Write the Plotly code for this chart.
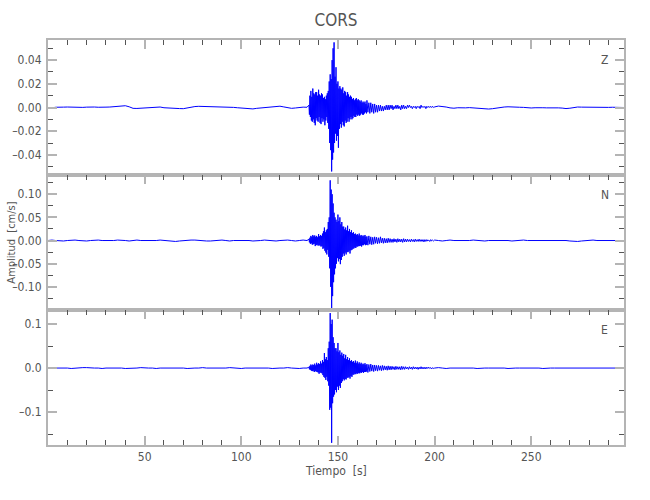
import numpy as np
import plotly.graph_objects as go
from plotly.subplots import make_subplots

# time grid (s): quiet part every 2 s, strong motion every 0.25 s,
# coda every 0.5 s, late coda every 2 s
t_quiet = np.arange(0, 135, 2)
t_strong = np.arange(135, 165, 0.25)
t_coda = np.arange(165, 200, 0.5)
t_tail = np.arange(200, 299, 2)

# vertical component Z (cm/s)
z_quiet = [
    0.0000, -0.0003, 0.0002, 0.0000, 0.0003, 0.0004, 0.0002, 0.0004, 0.0003, 0.0001,
    0.0003, 0.0005, 0.0004, 0.0002, 0.0000, 0.0003, 0.0004, 0.0006, 0.0009, 0.0013,
    0.0015, 0.0006, -0.0007, -0.0008, -0.0006, -0.0004, 0.0001, 0.0006, 0.0008, 0.0004,
    -0.0002, -0.0005, -0.0004, -0.0006, -0.0009, -0.0010, -0.0003, 0.0004, 0.0008, 0.0010,
    0.0009, 0.0007, 0.0008, 0.0006, 0.0009, 0.0007, 0.0003, 0.0002, 0.0001, -0.0002,
    -0.0004, -0.0006, -0.0010, -0.0012, -0.0007, -0.0003, -0.0004, 0.0002, 0.0007, 0.0012,
    0.0011, 0.0005, -0.0003, -0.0007, -0.0004, 0.0001, 0.0003, 0.0002,
]
z_strong = [
    0.002, -0.006, 0.010, -0.008, 0.014, -0.011, 0.009, -0.012,
    0.016, -0.010, 0.012, -0.013, 0.011, -0.015, 0.013, -0.009,
    0.013, -0.011, 0.010, -0.012, 0.015, -0.008, 0.011, -0.013,
    0.010, -0.014, 0.012, -0.009, 0.011, -0.012, 0.008, -0.010,
    0.009, -0.015, 0.007, -0.011, 0.010, -0.008, 0.012, -0.013,
    0.014, -0.018, 0.022, -0.030, 0.028, -0.036, 0.024, -0.054,
    0.040, -0.044, 0.050, -0.038, 0.055, -0.030, 0.026, -0.022,
    0.034, -0.028, 0.020, -0.024, 0.022, -0.034, 0.016, -0.018,
    0.018, -0.014, 0.016, -0.017, 0.015, -0.012, 0.017, -0.015,
    0.012, -0.016, 0.014, -0.011, 0.013, -0.013, 0.010, -0.012,
    0.013, -0.009, 0.011, -0.012, 0.009, -0.010, 0.010, -0.008,
    0.009, -0.010, 0.007, -0.009, 0.008, -0.007, 0.006, -0.008,
    0.007, -0.008, 0.008, -0.006, 0.006, -0.007, 0.007, -0.006,
    0.006, -0.007, 0.005, -0.006, 0.006, -0.005, 0.004, -0.006,
    0.005, -0.006, 0.004, -0.005, 0.005, -0.004, 0.003, -0.005,
]
z_coda = [
    0.006, -0.004, 0.004, -0.005, 0.004, -0.004, 0.003, -0.005, 0.003, -0.004,
    0.002, -0.004, 0.002, -0.003, 0.002, -0.003, 0.001, -0.003, 0.001, -0.002,
    0.002, -0.002, 0.002, -0.002, 0.002, -0.001, 0.002, -0.002, 0.001, -0.001,
    0.002, -0.001, 0.002, -0.001, 0.001, -0.002, 0.002, -0.001, 0.002, -0.001,
    0.001, -0.001, 0.002, 0.000, 0.002, 0.000, 0.001, -0.001, 0.001, 0.000,
    0.001, -0.001, 0.001, 0.000, 0.001, -0.001, 0.002, 0.000, 0.001, 0.000,
    0.001, -0.001, 0.001, 0.000, 0.001, 0.000, 0.001, 0.000, 0.001, 0.000,
]
z_tail = [
    0.0005, 0.0012, 0.0010, 0.0004, -0.0003, -0.0006, -0.0002, -0.0005, -0.0003, -0.0001,
    -0.0004, -0.0007, -0.0009, -0.0012, -0.0013, -0.0010, -0.0004, 0.0002, 0.0004, 0.0006,
    0.0003, -0.0001, 0.0002, 0.0001, -0.0003, -0.0004, -0.0002, 0.0000, -0.0002, -0.0003,
    -0.0002, 0.0001, -0.0003, -0.0005, -0.0009, -0.0006, 0.0002, 0.0004, 0.0003, 0.0002,
    0.0003, 0.0002, 0.0001, 0.0003, 0.0002, 0.0001, 0.0002, 0.0003, 0.0001, 0.0000,
]

# north component N (cm/s)
n_quiet = [
    0.000, 0.001, 0.000, -0.001, -0.001, 0.000, 0.001, 0.001, 0.000, -0.001,
    -0.001, 0.000, 0.001, 0.001, 0.000, 0.000, -0.001, 0.000, 0.001, 0.001,
    0.000, -0.001, 0.000, 0.001, 0.000, 0.000, -0.001, 0.000, 0.000, 0.001,
    0.000, -0.001, -0.001, -0.002, -0.001, 0.000, 0.001, 0.001, 0.001, 0.000,
    0.000, -0.001, -0.001, 0.000, 0.001, 0.001, 0.000, -0.001, 0.000, 0.000,
    0.001, 0.001, 0.000, -0.001, -0.001, 0.000, 0.001, 0.000, 0.000, -0.001,
    0.000, 0.001, 0.001, 0.000, -0.001, 0.000, 0.001, 0.000,
]
n_strong = [
    0.003, -0.004, 0.006, -0.007, 0.010, -0.006, 0.008, -0.009,
    0.012, -0.008, 0.009, -0.007, 0.011, -0.012, 0.008, -0.010,
    0.010, -0.009, 0.007, -0.011, 0.014, -0.010, 0.009, -0.011,
    0.012, -0.013, 0.010, -0.012, 0.015, -0.018, 0.020, -0.016,
    0.028, -0.022, 0.018, -0.026, 0.022, -0.030, 0.025, -0.020,
    0.040, -0.035, 0.050, -0.060, 0.130, -0.100, 0.110, -0.146,
    0.100, -0.120, 0.080, -0.090, 0.060, -0.073, 0.050, -0.060,
    0.045, -0.050, 0.040, -0.038, 0.056, -0.045, 0.042, -0.040,
    0.050, -0.051, 0.035, -0.042, 0.040, -0.035, 0.030, -0.028,
    0.030, -0.033, 0.024, -0.026, 0.028, -0.030, 0.022, -0.025,
    0.032, -0.025, 0.020, -0.022, 0.025, -0.028, 0.018, -0.021,
    0.022, -0.020, 0.016, -0.018, 0.018, -0.017, 0.014, -0.015,
    0.015, -0.016, 0.012, -0.013, 0.014, -0.013, 0.011, -0.012,
    0.015, -0.012, 0.010, -0.011, 0.012, -0.013, 0.009, -0.010,
    0.011, -0.010, 0.009, -0.008, 0.012, -0.010, 0.008, -0.009,
]
n_coda = [
    0.009, -0.010, 0.010, -0.008, 0.008, -0.009, 0.007, -0.008, 0.008, -0.006,
    0.007, -0.007, 0.006, -0.006, 0.008, -0.005, 0.005, -0.006, 0.005, -0.005,
    0.004, -0.005, 0.005, -0.004, 0.004, -0.004, 0.003, -0.004, 0.004, -0.003,
    0.003, -0.004, 0.004, -0.003, 0.003, -0.003, 0.003, -0.004, 0.004, -0.003,
    0.003, -0.003, 0.003, -0.002, 0.002, -0.003, 0.003, -0.002, 0.002, -0.003,
    0.003, -0.002, 0.002, -0.002, 0.003, -0.002, 0.002, -0.002, 0.002, -0.003,
    0.002, -0.002, 0.002, -0.001, 0.001, -0.002, 0.002, -0.001, 0.001, -0.001,
]
n_tail = [
    0.001, 0.000, -0.001, 0.000, 0.001, 0.000, 0.000, -0.001, 0.000, 0.000,
    0.001, 0.000, 0.000, -0.001, 0.000, 0.000, 0.001, 0.001, 0.000, 0.000,
    -0.001, 0.000, 0.000, 0.001, 0.000, 0.000, 0.000, 0.001, 0.001, 0.000,
    0.000, 0.000, 0.001, 0.000, 0.000, -0.001, -0.002, -0.002, -0.001, 0.000,
    0.000, 0.001, 0.000, 0.000, 0.000, 0.001, 0.000, 0.000, 0.000, 0.000,
]

# east component E (cm/s)
e_quiet = [
    0.000, 0.000, 0.001, 0.000, 0.000, 0.000, -0.001, 0.000, 0.000, 0.001,
    0.001, 0.000, 0.000, 0.000, -0.001, 0.000, 0.000, 0.001, 0.000, 0.000,
    -0.001, -0.001, 0.000, 0.000, 0.001, 0.000, 0.000, 0.000, -0.001, 0.000,
    0.000, 0.001, 0.001, 0.000, 0.000, 0.000, -0.001, 0.000, 0.000, 0.000,
    0.001, 0.000, 0.000, -0.001, 0.000, 0.000, 0.000, 0.001, 0.000, 0.000,
    -0.001, 0.000, 0.000, 0.000, 0.001, 0.000, 0.000, 0.000, -0.001, 0.000,
    0.000, 0.000, 0.001, 0.000, -0.001, -0.001, 0.000, 0.000,
]
e_strong = [
    0.002, -0.003, 0.005, -0.004, 0.008, -0.006, 0.006, -0.007,
    0.008, -0.006, 0.007, -0.009, 0.010, -0.007, 0.006, -0.008,
    0.012, -0.009, 0.008, -0.010, 0.011, -0.013, 0.009, -0.010,
    0.015, -0.011, 0.010, -0.012, 0.018, -0.016, 0.014, -0.020,
    0.034, -0.022, 0.020, -0.027, 0.025, -0.020, 0.018, -0.030,
    0.045, -0.040, 0.060, -0.095, 0.125, -0.090, 0.100, -0.170,
    0.110, -0.080, 0.070, -0.065, 0.057, -0.060, 0.045, -0.050,
    0.045, -0.055, 0.038, -0.042, 0.057, -0.050, 0.036, -0.040,
    0.040, -0.045, 0.030, -0.034, 0.035, -0.030, 0.028, -0.025,
    0.032, -0.028, 0.022, -0.025, 0.030, -0.026, 0.020, -0.022,
    0.025, -0.022, 0.018, -0.020, 0.022, -0.024, 0.016, -0.018,
    0.018, -0.020, 0.014, -0.015, 0.016, -0.015, 0.012, -0.013,
    0.017, -0.014, 0.011, -0.012, 0.015, -0.013, 0.010, -0.011,
    0.013, -0.012, 0.009, -0.010, 0.012, -0.011, 0.008, -0.009,
    0.010, -0.011, 0.008, -0.009, 0.011, -0.009, 0.007, -0.008,
]
e_coda = [
    0.009, -0.010, 0.008, -0.008, 0.009, -0.007, 0.007, -0.008, 0.007, -0.006,
    0.006, -0.007, 0.006, -0.005, 0.005, -0.006, 0.006, -0.005, 0.005, -0.004,
    0.004, -0.005, 0.005, -0.004, 0.004, -0.004, 0.004, -0.003, 0.003, -0.004,
    0.004, -0.003, 0.003, -0.003, 0.003, -0.004, 0.004, -0.003, 0.003, -0.003,
    0.003, -0.002, 0.002, -0.003, 0.003, -0.002, 0.002, -0.003, 0.003, -0.002,
    0.002, -0.002, 0.002, -0.003, 0.002, -0.002, 0.003, -0.002, 0.002, -0.002,
    0.002, -0.002, 0.002, -0.001, 0.002, -0.001, 0.001, -0.002, 0.001, -0.001,
]
e_tail = [
    0.000, 0.001, 0.000, -0.001, 0.000, 0.000, 0.000, 0.001, 0.000, 0.000,
    0.000, -0.001, 0.000, 0.000, 0.000, 0.000, 0.001, 0.000, 0.000, -0.001,
    0.000, 0.000, 0.000, 0.000, 0.001, 0.000, 0.000, 0.000, -0.001, 0.000,
    0.000, 0.000, 0.000, 0.001, 0.000, 0.000, 0.000, 0.000, 0.000, 0.000,
    0.001, 0.001, 0.001, 0.000, 0.000, 0.000, 0.000, 0.000, 0.000, 0.000,
]

components = ["Z", "N", "E"]
y_ranges = [[-0.057, 0.057], [-0.150, 0.1415], [-0.175, 0.132]]
y_major = [[-0.04, -0.02, 0.0, 0.02, 0.04], [-0.10, -0.05, 0.0, 0.05, 0.10], [-0.1, 0.0, 0.1]]
y_labels = [["–0.04", "–0.02", "0.00", "0.02", "0.04"],
            ["–0.10", "–0.05", "0.00", "0.05", "0.10"],
            ["–0.1", "0.0", "0.1"]]
y_minor = [0.01, 0.025, 0.05]
x_major = [50, 100, 150, 200, 250]

t = np.concatenate([t_quiet, t_strong, t_coda, t_tail])
series = [
    z_quiet + z_strong + z_coda + z_tail,
    n_quiet + n_strong + n_coda + n_tail,
    e_quiet + e_strong + e_coda + e_tail,
]

FONT = "DejaVu Sans Condensed, Liberation Sans Narrow, Arial Narrow, sans-serif"
FRAME = "#b4b4b4"
TXT = "#555555"

fig = make_subplots(rows=3, cols=1, shared_xaxes=True, vertical_spacing=0)

for i, (name, y) in enumerate(zip(components, series)):
    row = i + 1
    fig.add_trace(go.Scatter(x=t, y=y, mode="lines", name=name,
                             line=dict(color="#0000ff", width=1)), row=row, col=1)
    fig.update_yaxes(range=y_ranges[i], tickvals=y_major[i], ticktext=y_labels[i],
                     ticks="inside", ticklen=9, tickwidth=2, tickcolor=FRAME,
                     minor=dict(dtick=y_minor[i], tick0=0, ticks="inside", ticklen=5,
                                tickwidth=1, tickcolor="#555555"),
                     showline=True, linecolor=FRAME, linewidth=2, mirror="ticks",
                     showgrid=False, zeroline=False, automargin=False, ticklabelstandoff=2,
                     tickfont=dict(family=FONT, size=12, color=TXT), row=row, col=1)
    fig.update_xaxes(range=[0, 298], tickvals=x_major,
                     ticks="inside", ticklen=9, tickwidth=2, tickcolor=FRAME,
                     minor=dict(dtick=10, tick0=0, ticks="inside", ticklen=5, tickwidth=1,
                                tickcolor="#555555"),
                     showline=True, linecolor=FRAME, linewidth=2,
                     mirror="ticks" if row == 3 else True,
                     side="bottom" if row == 3 else "top",
                     showticklabels=(row == 3), showgrid=False, zeroline=False,
                     automargin=False,
                     tickfont=dict(family=FONT, size=12, color=TXT), row=row, col=1)
    fig.add_annotation(text=name, xref="x domain" if row == 1 else f"x{row} domain",
                       yref="y domain" if row == 1 else f"y{row} domain",
                       x=0.967, y=0.85, xanchor="center", yanchor="middle",
                       showarrow=False, font=dict(family=FONT, size=12, color=TXT))

fig.add_annotation(text="Amplitud  [cm/s]", xref="paper", yref="paper",
                   x=-0.064, y=0.5, xanchor="center", yanchor="middle",
                   textangle=-90, showarrow=False,
                   font=dict(family=FONT, size=11, color=TXT))
fig.add_annotation(text="Tiempo  [s]", xref="paper", yref="paper",
                   x=0.5, y=-0.064, xanchor="center", yanchor="middle", showarrow=False,
                   font=dict(family=FONT, size=12, color=TXT))

fig.update_layout(
    width=650, height=500,
    margin=dict(l=48, r=26, t=40, b=55),
    title=dict(text="CORS", x=0.5, xref="paper", y=0.96, yanchor="middle",
               automargin=False, font=dict(family=FONT, size=17, color=TXT)),
    showlegend=False,
    plot_bgcolor="white", paper_bgcolor="white",
)

# drop the page's default body margin so the figure starts at the window corner
fig.write_html("out.html", config={"displayModeBar": False},
               post_script="document.body.style.margin = '0';")
